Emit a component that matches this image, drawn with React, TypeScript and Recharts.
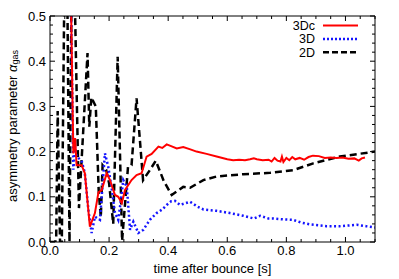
import React from 'react';
import { LineChart, Line, XAxis, YAxis, Label } from 'recharts';

// ---- data (time after bounce [s], asymmetry parameter) ----
const series3Dc: [number, number][] = [
  [0.0705, 0.55], [0.079, 0.196], [0.085, 0.23], [0.09, 0.17], [0.107, 0.17], [0.118, 0.152],
  [0.135, 0.034], [0.152, 0.064], [0.164, 0.11], [0.175, 0.115], [0.192, 0.152], [0.203, 0.137],
  [0.22, 0.104], [0.231, 0.1], [0.243, 0.086], [0.254, 0.115], [0.276, 0.137], [0.293, 0.148],
  [0.31, 0.152], [0.327, 0.189], [0.344, 0.195], [0.367, 0.211], [0.38, 0.208], [0.395, 0.216],
  [0.41, 0.212], [0.429, 0.207], [0.451, 0.21], [0.475, 0.205], [0.496, 0.2], [0.53, 0.195],
  [0.564, 0.189], [0.6, 0.183], [0.62, 0.181], [0.64, 0.182], [0.66, 0.181], [0.677, 0.183],
  [0.69, 0.185], [0.7, 0.183], [0.72, 0.181], [0.74, 0.182], [0.75, 0.178], [0.76, 0.186],
  [0.77, 0.18], [0.78, 0.178], [0.785, 0.189], [0.79, 0.177], [0.8, 0.186], [0.81, 0.181],
  [0.82, 0.188], [0.83, 0.183], [0.845, 0.186], [0.86, 0.182], [0.875, 0.188], [0.89, 0.191],
  [0.91, 0.19], [0.93, 0.186], [0.95, 0.187], [0.97, 0.186], [0.99, 0.187], [1.01, 0.184],
  [1.03, 0.185], [1.045, 0.18], [1.055, 0.185], [1.066, 0.187],
];

const series3D: [number, number][] = [
  [0.0705, 0.55], [0.079, 0.16], [0.085, 0.211], [0.09, 0.189], [0.107, 0.18], [0.118, 0.152],
  [0.13, 0.07], [0.141, 0.02], [0.152, 0.056], [0.169, 0.049], [0.186, 0.196], [0.197, 0.167],
  [0.208, 0.122], [0.22, 0.064], [0.231, 0.049], [0.24, 0.093], [0.248, 0.137], [0.26, 0.122],
  [0.271, 0.027], [0.282, 0.045], [0.299, 0.02], [0.316, 0.027], [0.338, 0.049], [0.361, 0.064],
  [0.38, 0.072], [0.395, 0.082], [0.41, 0.09], [0.423, 0.091], [0.44, 0.082], [0.474, 0.089],
  [0.5, 0.078], [0.519, 0.072], [0.564, 0.069], [0.609, 0.064], [0.654, 0.058], [0.69, 0.052],
  [0.711, 0.058], [0.739, 0.052], [0.756, 0.052], [0.79, 0.05], [0.823, 0.049], [0.85, 0.043],
  [0.88, 0.039], [0.936, 0.035], [0.981, 0.035], [1.038, 0.038], [1.07, 0.035], [1.1, 0.032],
];

const series2D: [number, number][] = [
  [0.0, 0.0], [0.018, 0.0], [0.021, 0.01], [0.026, 0.29], [0.034, 0.0], [0.04, 0.0],
  [0.05, 0.65], [0.058, 0.6], [0.066, 0.0], [0.074, 0.65], [0.082, 0.6], [0.098, 0.075],
  [0.127, 0.418], [0.133, 0.255], [0.14, 0.32], [0.155, 0.3], [0.165, 0.11], [0.172, 0.055],
  [0.178, 0.17], [0.19, 0.16], [0.2, 0.13], [0.214, 0.04], [0.229, 0.41], [0.244, 0.003],
  [0.264, 0.166], [0.276, 0.17], [0.293, 0.318], [0.315, 0.137], [0.338, 0.159], [0.358, 0.18],
  [0.385, 0.135], [0.412, 0.104], [0.451, 0.122], [0.474, 0.12], [0.519, 0.137], [0.564, 0.145],
  [0.654, 0.15], [0.745, 0.153], [0.823, 0.159], [0.891, 0.174], [0.981, 0.189], [1.1, 0.2],
];

const xTicks: number[] = [0, 0.05, 0.1, 0.15, 0.2, 0.25, 0.3, 0.35, 0.4, 0.45, 0.5, 0.55, 0.6, 0.65, 0.7, 0.75, 0.8, 0.85, 0.9, 0.95, 1.0, 1.05, 1.1];
const yTicks: number[] = [0, 0.02, 0.04, 0.06, 0.08, 0.1, 0.12, 0.14, 0.16, 0.18, 0.2, 0.22, 0.24, 0.26, 0.28, 0.3, 0.32, 0.34, 0.36, 0.38, 0.4, 0.42, 0.44, 0.46, 0.48, 0.5];

const toPts = (s: [number, number][]) => s.map(([t, v]) => ({ t, v }));
const data3Dc = toPts(series3Dc);
const data3D = toPts(series3D);
const data2D = toPts(series2D);

const FONT = '"Liberation Sans", Arial, Helvetica, sans-serif';
const isMult = (v: number, step: number) => Math.abs(v / step - Math.round(v / step)) < 1e-6;

const BottomTick = (p: any) => {
  const { x, y, payload } = p;
  const major = isMult(payload.value, 0.2);
  return (
    <g>
      <line x1={x} x2={x} y1={y} y2={y - (major ? 5 : 3)} stroke="#000" strokeWidth={1} />
      {major && (
        <text x={x} y={y + 13} textAnchor="middle" fontSize={13} fontFamily={FONT} fill="#000">
          {payload.value.toFixed(1)}
        </text>
      )}
    </g>
  );
};
const TopTick = (p: any) => {
  const { x, y, payload } = p;
  const major = isMult(payload.value, 0.2);
  return <line x1={x} x2={x} y1={y} y2={y + (major ? 5 : 3)} stroke="#000" strokeWidth={1} />;
};
const LeftTick = (p: any) => {
  const { x, y, payload } = p;
  const major = isMult(payload.value, 0.1);
  return (
    <g>
      <line x1={x} x2={x + (major ? 5 : 3)} y1={y} y2={y} stroke="#000" strokeWidth={1} />
      {major && (
        <text x={x - 4} y={y + 4.5} textAnchor="end" fontSize={13} fontFamily={FONT} fill="#000">
          {payload.value.toFixed(1)}
        </text>
      )}
    </g>
  );
};
const RightTick = (p: any) => {
  const { x, y, payload } = p;
  const major = isMult(payload.value, 0.1);
  return <line x1={x} x2={x - (major ? 5 : 3)} y1={y} y2={y} stroke="#000" strokeWidth={1} />;
};

const YLabelContent = (props: any) => {
  const vb = props.viewBox || { x: 0, y: 16, width: 50, height: 226 };
  const cx = 12;
  const cy = vb.y + vb.height / 2 - 3;
  return (
    <text
      x={cx}
      y={cy}
      transform={`rotate(-90, ${cx}, ${cy})`}
      textAnchor="middle"
      dominantBaseline="central"
      fontSize={13}
      fontFamily={FONT}
      fill="#000"
    >
      asymmetry parameter <tspan fontStyle="italic">α</tspan>
      <tspan fontSize={9} dy={3}>gas</tspan>
    </text>
  );
};
const XLabelContent = (props: any) => {
  const vb = props.viewBox || { x: 50, y: 242, width: 325, height: 37 };
  return (
    <text x={vb.x + vb.width / 2} y={273} textAnchor="middle" fontSize={13} fontFamily={FONT} fill="#000">
      time after bounce [s]
    </text>
  );
};

const legendItems = [
  { name: '3Dc', color: '#ff0000', dash: undefined as string | undefined, width: 2 },
  { name: '3D', color: '#1414ff', dash: '2 2', width: 2.5 },
  { name: '2D', color: '#000000', dash: '6 3', width: 2.5 },
];

export default function App() {
  return (
    <div style={{ position: 'absolute', left: 0, top: 0, width: 399, height: 279, background: '#fff' }}>
      <LineChart width={399} height={279} margin={{ top: 6, right: 14, bottom: 0, left: 0 }} style={{ fontFamily: FONT }}>
        <XAxis
          xAxisId="bottom"
          dataKey="t"
          type="number"
          domain={[0, 1.1]}
          allowDataOverflow
          ticks={xTicks}
          interval={0}
          tickSize={0}
          tickMargin={0}
          tickLine={false}
          tick={BottomTick}
          height={37}
          axisLine={{ stroke: '#000', strokeWidth: 1 }}
          label={<Label content={XLabelContent} />}
        />
        <XAxis
          xAxisId="top"
          orientation="top"
          dataKey="t"
          type="number"
          domain={[0, 1.1]}
          allowDataOverflow
          ticks={xTicks}
          interval={0}
          tickSize={0}
          tickMargin={0}
          tickLine={false}
          tick={TopTick}
          height={10}
          axisLine={{ stroke: '#000', strokeWidth: 1 }}
        />
        <YAxis
          yAxisId="left"
          type="number"
          domain={[0, 0.5]}
          allowDataOverflow
          ticks={yTicks}
          interval={0}
          tickSize={0}
          tickMargin={0}
          tickLine={false}
          tick={LeftTick}
          width={50}
          axisLine={{ stroke: '#000', strokeWidth: 1 }}
          label={<Label content={YLabelContent} />}
        />
        <YAxis
          yAxisId="right"
          orientation="right"
          type="number"
          domain={[0, 0.5]}
          allowDataOverflow
          ticks={yTicks}
          interval={0}
          tickSize={0}
          tickMargin={0}
          tickLine={false}
          tick={RightTick}
          width={10}
          axisLine={{ stroke: '#000', strokeWidth: 1 }}
        />
        <Line
          xAxisId="bottom"
          yAxisId="left"
          data={data2D}
          dataKey="v"
          type="linear"
          stroke="#000"
          strokeWidth={2.5}
          strokeDasharray="7 4"
          dot={false}
          isAnimationActive={false}
        />
        <Line
          xAxisId="bottom"
          yAxisId="left"
          data={data3D}
          dataKey="v"
          type="linear"
          stroke="#1414ff"
          strokeWidth={2.5}
          strokeDasharray="2 2.5"
          dot={false}
          isAnimationActive={false}
        />
        <Line
          xAxisId="bottom"
          yAxisId="left"
          data={data3Dc}
          dataKey="v"
          type="linear"
          stroke="#ff0000"
          strokeWidth={2}
          dot={false}
          isAnimationActive={false}
        />
      </LineChart>
      <svg style={{ position: 'absolute', left: 0, top: 0 }} width={399} height={279} pointerEvents="none">
        {legendItems.map((it, i) => {
          const cy = 25.5 + i * 13.4;
          return (
            <g key={it.name}>
              <text x={315} y={cy + 4.3} textAnchor="end" fontSize={12.5} fontFamily={FONT} fill="#000">
                {it.name}
              </text>
              <line x1={323} x2={358} y1={cy} y2={cy} stroke={it.color} strokeWidth={it.width} strokeDasharray={it.dash} />
            </g>
          );
        })}
      </svg>
    </div>
  );
}
